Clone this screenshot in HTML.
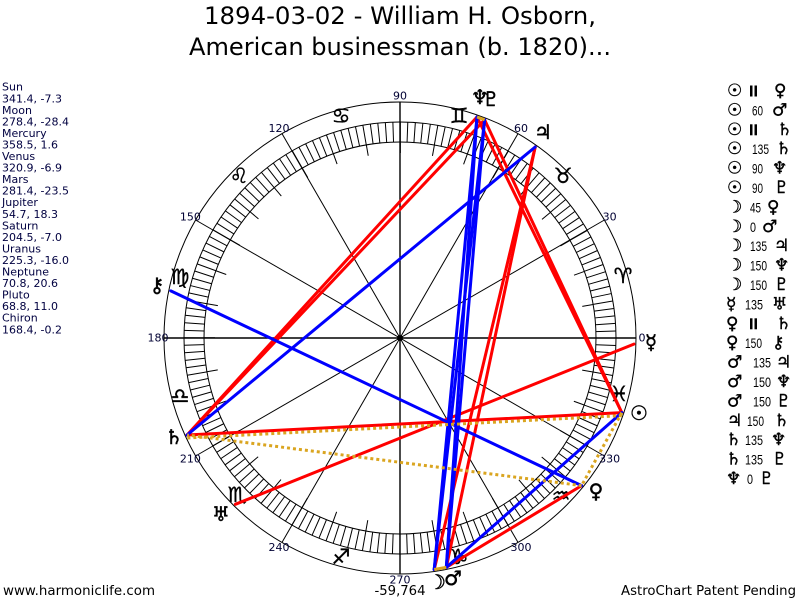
<!DOCTYPE html>
<html><head><meta charset="utf-8">
<style>
html,body{margin:0;padding:0;background:#fff;}
svg{display:block;}
text{font-family:"DejaVu Sans","Liberation Sans",sans-serif;}
.lp{font-size:11px;fill:#000040;}
.deg{font-size:11px;fill:#000033;}
.z{font-size:21px;fill:#000;stroke:#000;stroke-width:0.4;}
.pg{font-size:20px;fill:#000;stroke:#000;stroke-width:0.5;}
.rg{font-size:17px;fill:#000;stroke:#000;stroke-width:0.4;}
.rn{font-family:"Liberation Sans",sans-serif;font-size:14px;fill:#000;}
</style></head>
<body>
<svg width="800" height="600" viewBox="0 0 800 600" xmlns="http://www.w3.org/2000/svg">
<rect width="800" height="600" fill="#fff"/>

<!-- Title -->
<text x="400" y="24" text-anchor="middle" font-size="24" fill="#000" textLength="392" lengthAdjust="spacingAndGlyphs">1894-03-02 - William H. Osborn,</text>
<text x="400" y="55" text-anchor="middle" font-size="24" fill="#000" textLength="422" lengthAdjust="spacingAndGlyphs">American businessman (b. 1820)...</text>

<!-- Left panel -->
<text class="lp" x="2" y="90.7">Sun</text>
<text class="lp" x="2" y="102.3">341.4, -7.3</text>
<text class="lp" x="2" y="113.8">Moon</text>
<text class="lp" x="2" y="125.4">278.4, -28.4</text>
<text class="lp" x="2" y="136.9">Mercury</text>
<text class="lp" x="2" y="148.5">358.5, 1.6</text>
<text class="lp" x="2" y="160">Venus</text>
<text class="lp" x="2" y="171.6">320.9, -6.9</text>
<text class="lp" x="2" y="183.1">Mars</text>
<text class="lp" x="2" y="194.7">281.4, -23.5</text>
<text class="lp" x="2" y="206.2">Jupiter</text>
<text class="lp" x="2" y="217.8">54.7, 18.3</text>
<text class="lp" x="2" y="229.3">Saturn</text>
<text class="lp" x="2" y="240.9">204.5, -7.0</text>
<text class="lp" x="2" y="252.4">Uranus</text>
<text class="lp" x="2" y="264">225.3, -16.0</text>
<text class="lp" x="2" y="275.5">Neptune</text>
<text class="lp" x="2" y="287.1">70.8, 20.6</text>
<text class="lp" x="2" y="298.6">Pluto</text>
<text class="lp" x="2" y="310.2">68.8, 11.0</text>
<text class="lp" x="2" y="321.7">Chiron</text>
<text class="lp" x="2" y="333.3">168.4, -0.2</text>

<!-- Wheel -->
<g fill="none" stroke="#000">
  <circle cx="400" cy="338" r="236" stroke-width="1"/>
  <circle cx="400" cy="338" r="216" stroke-width="1"/>
  <circle cx="400" cy="338" r="196" stroke-width="1"/>
  <circle cx="400" cy="338" r="206" stroke-width="20" stroke-dasharray="1 6.19076" stroke-dashoffset="0.5"/>
  <circle cx="400" cy="338" r="190.5" stroke-width="11" stroke-dasharray="1 32.2485" stroke-dashoffset="0.5"/>
</g>
<g stroke="#000" stroke-width="1">
  <line x1="164" y1="338" x2="636" y2="338" stroke-width="1.4"/>
  <line x1="400" y1="102" x2="400" y2="574" stroke-width="1.4"/>
  <line x1="604.4" y1="220" x2="195.6" y2="456"/>
  <line x1="518" y1="133.6" x2="282" y2="542.4"/>
  <line x1="282" y1="133.6" x2="518" y2="542.4"/>
  <line x1="195.6" y1="220" x2="604.4" y2="456"/>
</g>
<circle cx="400" cy="338" r="3" fill="#000"/>

<!-- Degree labels -->
<g text-anchor="middle" dominant-baseline="central">
  <text class="deg" x="642" y="338">0</text>
  <text class="deg" x="609.6" y="217">30</text>
  <text class="deg" x="521" y="128.4">60</text>
  <text class="deg" x="400" y="96">90</text>
  <text class="deg" x="279" y="128.4">120</text>
  <text class="deg" x="190.4" y="217">150</text>
  <text class="deg" x="158" y="338">180</text>
  <text class="deg" x="190.4" y="459">210</text>
  <text class="deg" x="279" y="547.6">240</text>
  <text class="deg" x="400" y="580">270</text>
  <text class="deg" x="521" y="547.6">300</text>
  <text class="deg" x="609.6" y="459">330</text>
</g>

<!-- Zodiac glyphs -->
<g text-anchor="middle" dominant-baseline="central">
  <text class="z" x="623" y="276">♈</text>
  <text class="z" x="563" y="176">♉</text>
  <text class="z" x="459" y="116">♊</text>
  <text class="z" x="341" y="116">♋</text>
  <text class="z" x="239" y="176">♌</text>
  <text class="z" x="180" y="277">♍</text>
  <text class="z" x="180" y="396">♎</text>
  <text class="z" x="237" y="495">♏</text>
  <text class="z" x="341" y="557">♐</text>
  <text class="z" x="459" y="557">♑</text>
  <text class="z" x="561" y="496">♒</text>
  <text class="z" x="619" y="394">♓</text>
</g>

<!-- Aspect lines: red -->
<g stroke="#ff0000" stroke-width="3" stroke-linecap="round">
  <line x1="621.8" y1="412.6" x2="187.1" y2="435.0"/>
  <line x1="621.8" y1="412.6" x2="477.0" y2="117.0"/>
  <line x1="621.8" y1="412.6" x2="484.6" y2="119.8"/>
  <line x1="434.2" y1="569.5" x2="535.2" y2="147.0"/>
  <line x1="633.9" y1="344.1" x2="235.4" y2="504.3"/>
  <line x1="446.3" y1="567.4" x2="535.2" y2="147.0"/>
  <line x1="187.1" y1="435.0" x2="477.0" y2="117.0"/>
  <line x1="187.1" y1="435.0" x2="484.6" y2="119.8"/>
  <line x1="581.6" y1="485.6" x2="446.3" y2="567.4"/>
</g>
<!-- blue -->
<g stroke="#0000ff" stroke-width="3" stroke-linecap="round">
  <line x1="621.8" y1="412.6" x2="446.3" y2="567.4"/>
  <line x1="434.2" y1="569.5" x2="477.0" y2="117.0"/>
  <line x1="434.2" y1="569.5" x2="484.6" y2="119.8"/>
  <line x1="446.3" y1="567.4" x2="477.0" y2="117.0"/>
  <line x1="446.3" y1="567.4" x2="484.6" y2="119.8"/>
  <line x1="581.6" y1="485.6" x2="170.8" y2="290.9"/>
  <line x1="535.2" y1="147.0" x2="187.1" y2="435.0"/>
</g>
<!-- orange -->
<g stroke="#daa520" stroke-width="3">
  <line x1="621.8" y1="412.6" x2="581.6" y2="485.6" stroke-dasharray="3 3"/>
  <line x1="621.8" y1="412.6" x2="187.1" y2="435.0" stroke-dasharray="3 3" transform="translate(0,3)"/>
  <line x1="581.6" y1="485.6" x2="187.1" y2="435.0" stroke-dasharray="3 3"/>
  <line x1="434.2" y1="569.5" x2="446.3" y2="567.4"/>
  <line x1="477.0" y1="117.0" x2="484.6" y2="119.8"/>
</g>

<!-- Planet glyphs -->
<g text-anchor="middle" dominant-baseline="central">
  <text class="pg" x="480" y="97">♆</text>
  <text class="pg" x="491" y="99">♇</text>
  <text class="pg" x="543" y="132">♃</text>
  <text class="pg" x="651" y="342">☿</text>
  <text class="pg" x="639" y="413">☉</text>
  <text class="pg" x="596" y="491">♀</text>
  <text class="pg" x="437" y="582">☽</text>
  <text class="pg" x="453" y="578">♂</text>
  <text class="pg" x="221" y="514">♅</text>
  <text class="pg" x="174" y="437">♄</text>
  <text class="pg" x="157" y="285">⚷</text>
</g>

<!-- Right panel -->
<g dominant-baseline="central">
  <!-- row 1 -->
  <text class="rg" x="727" y="91">☉</text>
  <rect x="750" y="85.5" width="2.5" height="11" fill="#000"/><rect x="754.5" y="85.5" width="2.5" height="11" fill="#000"/>
  <text class="rg" x="774" y="91">♀</text>
  <!-- row 2 -->
  <text class="rg" x="727" y="110.4">☉</text>
  <text class="rn" x="752" y="110.4" textLength="11" lengthAdjust="spacingAndGlyphs">60</text>
  <text class="rg" x="772" y="110.4">♂</text>
  <!-- row 3 -->
  <text class="rg" x="727" y="129.8">☉</text>
  <rect x="750" y="124.3" width="2.5" height="11" fill="#000"/><rect x="754.5" y="124.3" width="2.5" height="11" fill="#000"/>
  <text class="rg" x="777" y="129.8">♄</text>
  <!-- row 4 -->
  <text class="rg" x="727" y="149.2">☉</text>
  <text class="rn" x="752" y="149.2" textLength="17" lengthAdjust="spacingAndGlyphs">135</text>
  <text class="rg" x="776" y="149.2">♄</text>
  <!-- row 5 -->
  <text class="rg" x="727" y="168.6">☉</text>
  <text class="rn" x="752" y="168.6" textLength="11" lengthAdjust="spacingAndGlyphs">90</text>
  <text class="rg" x="772" y="168.6">♆</text>
  <!-- row 6 -->
  <text class="rg" x="727" y="188">☉</text>
  <text class="rn" x="752" y="188" textLength="11" lengthAdjust="spacingAndGlyphs">90</text>
  <text class="rg" x="774" y="188">♇</text>
  <!-- row 7 -->
  <text class="rg" x="727" y="207.4">☽</text>
  <text class="rn" x="750" y="207.4" textLength="11" lengthAdjust="spacingAndGlyphs">45</text>
  <text class="rg" x="767" y="207.4">♀</text>
  <!-- row 8 -->
  <text class="rg" x="727" y="226.8">☽</text>
  <text class="rn" x="750" y="226.8" textLength="6" lengthAdjust="spacingAndGlyphs">0</text>
  <text class="rg" x="762" y="226.8">♂</text>
  <!-- row 9 -->
  <text class="rg" x="727" y="246.2">☽</text>
  <text class="rn" x="750" y="246.2" textLength="17" lengthAdjust="spacingAndGlyphs">135</text>
  <text class="rg" x="774" y="246.2">♃</text>
  <!-- row 10 -->
  <text class="rg" x="727" y="265.6">☽</text>
  <text class="rn" x="750" y="265.6" textLength="17" lengthAdjust="spacingAndGlyphs">150</text>
  <text class="rg" x="774" y="265.6">♆</text>
  <!-- row 11 -->
  <text class="rg" x="727" y="285">☽</text>
  <text class="rn" x="750" y="285" textLength="17" lengthAdjust="spacingAndGlyphs">150</text>
  <text class="rg" x="774" y="285">♇</text>
  <!-- row 12 -->
  <text class="rg" x="726" y="304.4">☿</text>
  <text class="rn" x="745" y="304.4" textLength="18" lengthAdjust="spacingAndGlyphs">135</text>
  <text class="rg" x="772" y="304.4">♅</text>
  <!-- row 13 -->
  <text class="rg" x="726" y="323.8">♀</text>
  <rect x="750" y="318.3" width="2.5" height="11" fill="#000"/><rect x="754.5" y="318.3" width="2.5" height="11" fill="#000"/>
  <text class="rg" x="776" y="323.8">♄</text>
  <!-- row 14 -->
  <text class="rg" x="726" y="343.2">♀</text>
  <text class="rn" x="745" y="343.2" textLength="17" lengthAdjust="spacingAndGlyphs">150</text>
  <text class="rg" x="772" y="343.2">⚷</text>
  <!-- row 15 -->
  <text class="rg" x="727" y="362.6">♂</text>
  <text class="rn" x="753" y="362.6" textLength="18" lengthAdjust="spacingAndGlyphs">135</text>
  <text class="rg" x="776" y="362.6">♃</text>
  <!-- row 16 -->
  <text class="rg" x="727" y="382">♂</text>
  <text class="rn" x="753" y="382" textLength="18" lengthAdjust="spacingAndGlyphs">150</text>
  <text class="rg" x="776" y="382">♆</text>
  <!-- row 17 -->
  <text class="rg" x="727" y="401.4">♂</text>
  <text class="rn" x="753" y="401.4" textLength="18" lengthAdjust="spacingAndGlyphs">150</text>
  <text class="rg" x="776" y="401.4">♇</text>
  <!-- row 18 -->
  <text class="rg" x="727" y="420.8">♃</text>
  <text class="rn" x="747" y="420.8" textLength="17" lengthAdjust="spacingAndGlyphs">150</text>
  <text class="rg" x="774" y="420.8">♄</text>
  <!-- row 19 -->
  <text class="rg" x="726" y="440.2">♄</text>
  <text class="rn" x="745" y="440.2" textLength="18" lengthAdjust="spacingAndGlyphs">135</text>
  <text class="rg" x="771" y="440.2">♆</text>
  <!-- row 20 -->
  <text class="rg" x="726" y="459.6">♄</text>
  <text class="rn" x="745" y="459.6" textLength="18" lengthAdjust="spacingAndGlyphs">135</text>
  <text class="rg" x="772" y="459.6">♇</text>
  <!-- row 21 -->
  <text class="rg" x="726" y="479">♆</text>
  <text class="rn" x="747" y="479" textLength="6" lengthAdjust="spacingAndGlyphs">0</text>
  <text class="rg" x="759" y="479">♇</text>
</g>

<!-- Footer -->
<text x="3" y="595" font-size="13" fill="#000" textLength="152" lengthAdjust="spacingAndGlyphs">www.harmoniclife.com</text>
<text x="400" y="595" text-anchor="middle" font-size="13" fill="#000" textLength="51" lengthAdjust="spacingAndGlyphs">-59,764</text>
<text x="796" y="595" text-anchor="end" font-size="13" fill="#000" textLength="175" lengthAdjust="spacingAndGlyphs">AstroChart Patent Pending</text>
</svg>
</body></html>
